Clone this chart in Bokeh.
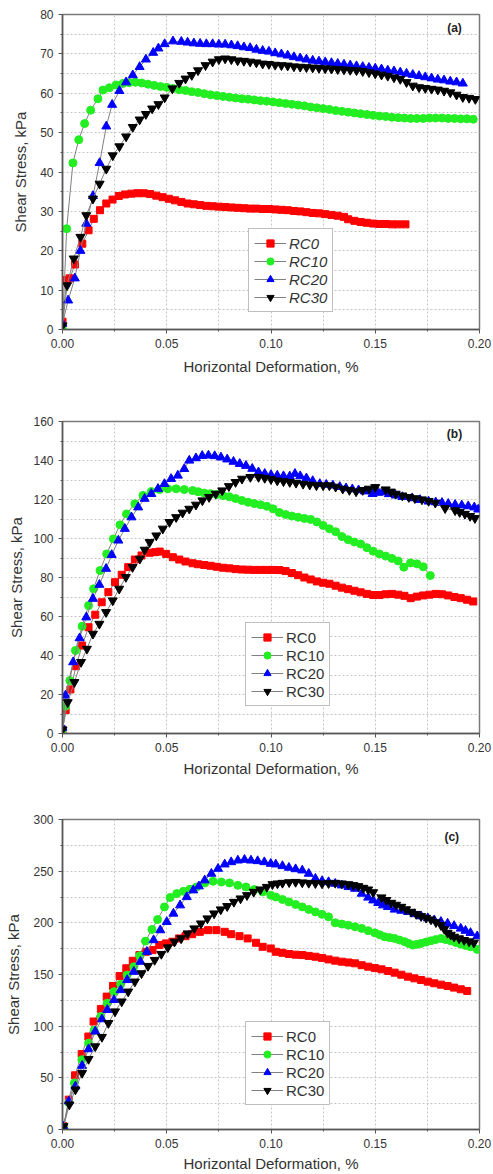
from bokeh.plotting import figure
from bokeh.models import (Range1d, FixedTicker, PrintfTickFormatter, Legend,
                          LegendItem, Label)
from bokeh.layouts import column
from bokeh.embed import file_html
from bokeh.resources import INLINE

# ---------------- data: panel (a) ----------------
A_RC0_x = [0.000, 0.002, 0.0035, 0.006, 0.0095, 0.0125, 0.015, 0.018, 0.021, 0.024,
           0.027, 0.030, 0.033, 0.036, 0.039, 0.042, 0.045, 0.048, 0.051, 0.054,
           0.057, 0.060, 0.063, 0.066, 0.069, 0.072, 0.075, 0.078, 0.081, 0.084,
           0.087, 0.090, 0.093, 0.096, 0.099, 0.102, 0.105, 0.108, 0.111, 0.114,
           0.117, 0.120, 0.123, 0.126, 0.129, 0.132, 0.135, 0.137, 0.140, 0.143,
           0.146, 0.149, 0.152, 0.155, 0.158, 0.161, 0.1645]
A_RC0_y = [2.0, 12.6, 13.0, 16.5, 21.8, 25.2, 28.1, 30.3, 32.0, 33.0,
           33.9, 34.3, 34.5, 34.6, 34.6, 34.4, 34.0, 33.6, 33.2, 32.8,
           32.4, 32.0, 31.8, 31.6, 31.4, 31.3, 31.2, 31.1, 31.0, 30.9,
           30.8, 30.7, 30.7, 30.6, 30.6, 30.5, 30.4, 30.3, 30.1, 30.0,
           29.8, 29.6, 29.5, 29.3, 29.1, 28.9, 28.6, 28.0, 27.6, 27.3,
           27.1, 26.9, 26.8, 26.8, 26.7, 26.7, 26.7]

A_RC10_x = [0.000, 0.002, 0.005, 0.0078, 0.0106, 0.0135, 0.017, 0.0194, 0.0225, 0.0257,
            0.029, 0.032, 0.035, 0.038, 0.041, 0.044, 0.047, 0.050, 0.053, 0.056,
            0.059, 0.062, 0.065, 0.068, 0.071, 0.074, 0.077, 0.080, 0.083, 0.086,
            0.089, 0.092, 0.095, 0.098, 0.101, 0.104, 0.107, 0.110, 0.113, 0.116,
            0.119, 0.122, 0.125, 0.128, 0.131, 0.134, 0.137, 0.140, 0.143, 0.146,
            0.149, 0.152, 0.155, 0.158, 0.161, 0.164, 0.167, 0.170, 0.173, 0.176,
            0.179, 0.182, 0.185, 0.188, 0.191, 0.194, 0.197]
A_RC10_y = [0.0, 25.6, 42.3, 48.2, 52.3, 55.7, 58.6, 60.8, 61.4, 62.1,
            62.5, 62.7, 62.8, 62.6, 62.3, 62.0, 61.7, 61.5, 61.2, 60.9,
            60.7, 60.4, 60.2, 59.9, 59.6, 59.4, 59.2, 59.0, 58.8, 58.6,
            58.5, 58.3, 58.1, 58.0, 57.8, 57.6, 57.4, 57.2, 57.0, 56.8,
            56.5, 56.3, 56.1, 55.9, 55.6, 55.4, 55.2, 55.0, 54.8, 54.6,
            54.4, 54.2, 54.1, 53.9, 53.8, 53.7, 53.6, 53.6, 53.6, 53.7,
            53.7, 53.7, 53.6, 53.6, 53.5, 53.5, 53.4]

A_RC20_x = [0.000, 0.0027, 0.0059, 0.0086, 0.0114, 0.0146, 0.0178, 0.021, 0.0238, 0.0273,
            0.0305, 0.0337, 0.037, 0.040, 0.0435, 0.046, 0.049, 0.053, 0.057, 0.060,
            0.063, 0.066, 0.069, 0.072, 0.075, 0.078, 0.081, 0.084, 0.087, 0.090,
            0.093, 0.096, 0.099, 0.102, 0.105, 0.108, 0.111, 0.114, 0.117, 0.120,
            0.123, 0.126, 0.129, 0.132, 0.135, 0.138, 0.141, 0.144, 0.147, 0.150,
            0.153, 0.156, 0.159, 0.162, 0.165, 0.168, 0.171, 0.174, 0.177, 0.180,
            0.183, 0.186, 0.189, 0.192]
A_RC20_y = [1.5, 7.4, 13.0, 20.0, 26.9, 33.9, 42.3, 51.6, 57.1, 60.6,
            62.8, 64.6, 66.7, 68.6, 70.3, 71.4, 72.5, 73.2, 73.1, 72.9,
            72.7, 72.6, 72.5, 72.5, 72.4, 72.4, 72.2, 72.0, 71.7, 71.5,
            71.1, 70.8, 70.6, 70.2, 69.9, 69.6, 69.2, 68.9, 68.6, 68.3,
            68.1, 67.9, 67.7, 67.5, 67.3, 67.1, 66.9, 66.7, 66.5, 66.3,
            66.1, 65.8, 65.6, 65.3, 65.0, 64.7, 64.4, 64.1, 63.8, 63.5,
            63.3, 63.0, 62.8, 62.5]

A_RC30_x = [0.000, 0.0022, 0.0054, 0.0086, 0.0114, 0.0146, 0.0178, 0.021, 0.0241, 0.0273,
            0.0305, 0.0337, 0.037, 0.040, 0.043, 0.046, 0.049, 0.0527, 0.056, 0.059,
            0.062, 0.065, 0.0686, 0.072, 0.075, 0.078, 0.081, 0.084, 0.087, 0.090,
            0.093, 0.096, 0.099, 0.102, 0.105, 0.108, 0.111, 0.114, 0.117, 0.120,
            0.123, 0.126, 0.129, 0.132, 0.135, 0.138, 0.141, 0.144, 0.147, 0.150,
            0.153, 0.156, 0.159, 0.162, 0.165, 0.168, 0.171, 0.174, 0.177, 0.180,
            0.183, 0.186, 0.189, 0.192, 0.195, 0.198]
A_RC30_y = [1.0, 11.2, 18.0, 23.5, 29.0, 33.2, 37.0, 40.8, 44.2, 46.5,
            49.0, 51.4, 53.3, 54.7, 56.1, 57.2, 58.9, 61.2, 62.6, 63.7,
            64.6, 65.8, 67.1, 68.0, 68.6, 68.8, 68.6, 68.3, 68.2, 68.0,
            67.8, 67.5, 67.4, 67.2, 67.1, 67.0, 66.8, 66.7, 66.6, 66.5,
            66.4, 66.3, 66.2, 66.1, 66.0, 65.9, 65.8, 65.6, 65.3, 65.0,
            64.7, 64.4, 64.0, 63.6, 62.8, 61.9, 61.5, 61.3, 61.1, 60.9,
            60.6, 60.2, 59.6, 59.0, 58.8, 58.5]

# ---------------- data: panel (b) ----------------
B_RC0_x = [0.000, 0.0015, 0.0038, 0.0065, 0.0094, 0.0125, 0.0157, 0.0188, 0.022, 0.0252,
           0.0284, 0.0315, 0.0347, 0.0379, 0.0418, 0.0445, 0.0466, 0.0497, 0.0529, 0.056,
           0.059, 0.0624, 0.065, 0.068, 0.071, 0.074, 0.077, 0.080, 0.083, 0.086,
           0.089, 0.092, 0.095, 0.098, 0.101, 0.104, 0.107, 0.110, 0.113, 0.116,
           0.119, 0.122, 0.125, 0.128, 0.131, 0.134, 0.137, 0.140, 0.143, 0.146,
           0.149, 0.152, 0.155, 0.158, 0.161, 0.164, 0.167, 0.170, 0.173, 0.176,
           0.179, 0.182, 0.185, 0.188, 0.191, 0.194, 0.197]
B_RC0_y = [2.0, 12.0, 22.6, 34.5, 45.1, 54.5, 60.9, 67.3, 72.5, 77.6,
           81.4, 85.3, 89.2, 91.3, 92.7, 93.0, 93.3, 92.1, 90.4, 89.2,
           88.2, 87.3, 86.8, 86.4, 86.0, 85.5, 85.0, 84.7, 84.3, 84.1,
           84.0, 83.9, 83.9, 83.9, 83.9, 83.8, 83.3, 82.3, 81.2, 80.0,
           79.0, 78.0, 77.3, 76.8, 75.8, 74.8, 74.0, 73.2, 72.4, 71.6,
           71.0, 71.0, 71.4, 71.6, 71.2, 70.6, 69.4, 70.2, 70.8, 71.2,
           71.6, 71.4, 70.8, 70.0, 69.4, 68.6, 67.7]

B_RC10_x = [0.000, 0.0015, 0.0035, 0.0062, 0.0094, 0.0125, 0.0149, 0.018, 0.0212, 0.0244,
            0.0276, 0.0307, 0.0347, 0.0386, 0.0426, 0.0466, 0.0505, 0.0545, 0.0584, 0.0624,
            0.065, 0.068, 0.071, 0.074, 0.077, 0.080, 0.083, 0.086, 0.089, 0.092,
            0.095, 0.098, 0.101, 0.104, 0.107, 0.110, 0.113, 0.116, 0.119, 0.122,
            0.125, 0.128, 0.131, 0.134, 0.137, 0.140, 0.143, 0.146, 0.149, 0.152,
            0.155, 0.158, 0.161, 0.1637, 0.1669, 0.170, 0.173, 0.1764]
B_RC10_y = [2.0, 14.0, 27.2, 42.6, 55.0, 65.6, 74.2, 83.6, 92.1, 99.8,
            107.0, 112.6, 117.8, 122.1, 124.1, 125.1, 125.5, 125.5, 125.1, 124.6,
            124.0, 123.3, 123.0, 122.6, 122.0, 121.4, 120.5, 119.5, 118.6, 117.9,
            117.3, 116.5, 115.2, 113.3, 112.3, 111.5, 110.9, 110.3, 109.8, 108.5,
            106.7, 105.0, 103.5, 101.0, 99.4, 98.2, 97.2, 95.3, 93.5, 92.1,
            91.0, 89.8, 88.5, 85.3, 87.5, 87.0, 85.5, 81.0]

B_RC20_x = [0.000, 0.0014, 0.0051, 0.0082, 0.0114, 0.0146, 0.0177, 0.0209, 0.0236, 0.0268,
            0.0299, 0.0331, 0.0363, 0.0394, 0.0426, 0.0458, 0.0489, 0.0521, 0.0553, 0.0584,
            0.0608, 0.064, 0.067, 0.070, 0.073, 0.076, 0.079, 0.082, 0.085, 0.088,
            0.091, 0.094, 0.097, 0.100, 0.103, 0.106, 0.109, 0.1115, 0.114, 0.117,
            0.120, 0.1234, 0.1265, 0.1297, 0.133, 0.136, 0.139, 0.142, 0.145, 0.1487,
            0.1515, 0.1534, 0.1565, 0.1598, 0.163, 0.1677, 0.1715, 0.1756, 0.179, 0.182,
            0.185, 0.1883, 0.1915, 0.1946, 0.1975, 0.1994]
B_RC20_y = [3.0, 19.5, 36.6, 48.9, 59.6, 69.1, 76.3, 84.5, 91.6, 99.0,
            105.0, 110.9, 116.0, 120.4, 122.9, 125.5, 128.0, 130.6, 132.3, 135.7,
            140.0, 141.2, 142.4, 142.6, 142.3, 141.6, 140.6, 139.4, 138.3, 137.3,
            135.8, 134.0, 133.2, 132.6, 132.3, 132.0, 131.9, 133.2, 132.0, 130.9,
            129.5, 128.0, 127.6, 127.2, 126.5, 125.8, 125.3, 124.8, 124.2, 122.9,
            123.5, 123.8, 122.8, 122.1, 121.3, 120.7, 119.8, 119.0, 118.6, 118.3,
            117.8, 117.3, 117.0, 116.6, 116.0, 114.9]

B_RC30_x = [0.000, 0.0025, 0.0057, 0.0089, 0.0117, 0.0146, 0.0177, 0.0209, 0.0241, 0.0272,
            0.0304, 0.0336, 0.0371, 0.0394, 0.0418, 0.045, 0.0481, 0.0513, 0.0545, 0.0576,
            0.0608, 0.064, 0.0671, 0.0703, 0.0735, 0.0766, 0.0798, 0.083, 0.0861, 0.0901,
            0.094, 0.097, 0.100, 0.103, 0.106, 0.109, 0.112, 0.1154, 0.1186, 0.1218,
            0.125, 0.128, 0.131, 0.1344, 0.1376, 0.1408, 0.144, 0.147, 0.150, 0.155,
            0.1575, 0.1598, 0.163, 0.1661, 0.169, 0.1724, 0.1756, 0.1788, 0.1835, 0.1883,
            0.1905, 0.193, 0.1955, 0.1978]
B_RC30_y = [2.0, 16.0, 26.3, 36.6, 43.4, 51.1, 56.2, 62.2, 68.2, 74.2,
            80.2, 85.3, 89.6, 94.2, 98.1, 101.5, 105.0, 108.4, 110.9, 113.2,
            115.2, 117.3, 119.5, 121.2, 122.9, 124.6, 126.8, 128.9, 130.6, 131.5,
            131.5, 131.0, 130.4, 129.7, 129.3, 128.9, 128.5, 128.0, 127.6, 127.2,
            127.2, 127.2, 126.5, 125.5, 124.8, 124.1, 124.8, 125.5, 126.3, 125.1,
            124.0, 122.9, 122.0, 121.2, 120.6, 120.0, 119.2, 118.3, 115.5, 114.4,
            113.5, 112.6, 111.5, 110.4]

# ---------------- data: panel (c) ----------------
C_RC0_x = [0.0005, 0.003, 0.006, 0.0092, 0.0124, 0.0149, 0.0184, 0.0212, 0.0242, 0.0274,
           0.0306, 0.0337, 0.0369, 0.040, 0.0432, 0.0464, 0.0496, 0.0527, 0.0559, 0.059,
           0.0622, 0.0659, 0.0698, 0.0738, 0.0778, 0.0809, 0.0849, 0.0888, 0.0928, 0.096,
           0.0999, 0.1023, 0.1055, 0.1086, 0.1118, 0.115, 0.1181, 0.1213, 0.1245, 0.1276,
           0.1308, 0.134, 0.1372, 0.1403, 0.1435, 0.1466, 0.1498, 0.153, 0.1562, 0.1593,
           0.1625, 0.1657, 0.1688, 0.172, 0.1752, 0.1783, 0.1815, 0.1847, 0.1878, 0.191, 0.1941]
C_RC0_y = [3.2, 28.9, 52.4, 73.0, 90.0, 104.5, 116.7, 128.6, 138.9, 148.5,
           156.0, 163.3, 168.8, 172.0, 173.6, 178.5, 180.1, 181.7, 184.9, 187.1,
           189.0, 191.3, 192.9, 192.9, 191.3, 189.0, 187.1, 184.9, 180.7, 176.8,
           175.2, 172.0, 171.0, 169.8, 169.2, 168.8, 168.0, 167.2, 166.0, 164.6,
           163.4, 162.4, 161.6, 160.8, 159.0, 157.6, 156.2, 155.0, 153.4, 151.8,
           149.8, 147.9, 146.3, 144.7, 143.1, 141.5, 140.2, 138.9, 137.3, 135.7, 134.1]

C_RC10_x = [0.0005, 0.003, 0.0057, 0.0093, 0.0125, 0.0152, 0.0184, 0.0215, 0.0247, 0.0279,
            0.031, 0.0342, 0.037, 0.0398, 0.0429, 0.0456, 0.0489, 0.0516, 0.0548, 0.058,
            0.0611, 0.0643, 0.0682, 0.0722, 0.0762, 0.0801, 0.0841, 0.088, 0.092, 0.096,
            0.0999, 0.1023, 0.1055, 0.1086, 0.1118, 0.115, 0.1181, 0.1213, 0.1245, 0.1276,
            0.1308, 0.134, 0.1371, 0.1403, 0.1435, 0.1466, 0.1498, 0.1522, 0.1545, 0.1569,
            0.1593, 0.1617, 0.1641, 0.166, 0.168, 0.170, 0.172, 0.1744, 0.1767, 0.179,
            0.1815, 0.1838, 0.1862, 0.1886, 0.191, 0.1933, 0.1957, 0.1989]
C_RC10_y = [2.0, 26.0, 45.0, 67.5, 83.6, 96.0, 109.4, 122.3, 133.4, 140.5,
            149.5, 157.5, 168.1, 182.3, 193.6, 203.2, 215.4, 224.5, 228.3, 230.5,
            232.5, 234.7, 238.6, 240.2, 239.5, 238.6, 236.3, 234.7, 232.2, 229.9,
            226.7, 225.0, 222.6, 220.2, 217.8, 215.4, 213.0, 210.6, 208.2, 205.8,
            200.0, 198.8, 197.7, 196.2, 194.6, 192.4, 190.3, 188.4, 186.5, 185.7,
            184.9, 183.3, 181.7, 180.1, 178.5, 179.3, 180.1, 181.4, 182.6, 183.8,
            184.9, 183.8, 182.6, 181.0, 179.4, 178.1, 176.8, 174.3]

C_RC20_x = [0.0005, 0.003, 0.0062, 0.0094, 0.0125, 0.0157, 0.0189, 0.0215, 0.0247, 0.0279,
            0.031, 0.0342, 0.0374, 0.0405, 0.0437, 0.0469, 0.050, 0.0532, 0.0564, 0.0596,
            0.0627, 0.0654, 0.0682, 0.0714, 0.0746, 0.0778, 0.0809, 0.0841, 0.0873, 0.0904,
            0.0936, 0.0968, 0.0999, 0.1023, 0.1055, 0.1086, 0.1118, 0.115, 0.1181, 0.1213,
            0.1245, 0.1276, 0.1308, 0.134, 0.1372, 0.1403, 0.1435, 0.1466, 0.149, 0.1514,
            0.1537, 0.1561, 0.1593, 0.1625, 0.1657, 0.1688, 0.172, 0.1752, 0.1783, 0.1815,
            0.1847, 0.1878, 0.191, 0.1933, 0.1957, 0.1989]
C_RC20_y = [3.0, 27.3, 41.8, 61.7, 77.8, 94.9, 106.8, 115.8, 125.4, 135.0,
            144.7, 152.7, 162.4, 172.0, 183.3, 192.9, 200.9, 209.0, 217.0, 225.0,
            231.5, 235.4, 241.2, 247.6, 252.4, 256.6, 258.8, 260.4, 261.1, 260.4,
            259.8, 258.8, 257.2, 256.6, 255.0, 253.4, 252.0, 250.8, 247.6, 242.8,
            240.5, 239.5, 237.9, 236.3, 234.7, 233.1, 228.3, 224.5, 221.8, 219.3,
            217.0, 215.4, 212.9, 211.8, 210.6, 208.5, 206.4, 204.5, 202.6, 201.0,
            199.3, 197.0, 194.5, 192.4, 190.3, 187.1]

C_RC30_x = [0.0005, 0.0033, 0.0062, 0.0094, 0.0125, 0.0157, 0.0189, 0.022, 0.0252, 0.0284,
            0.0315, 0.0347, 0.0379, 0.041, 0.0442, 0.0474, 0.0505, 0.0537, 0.0569, 0.060,
            0.0632, 0.0664, 0.0695, 0.0727, 0.0759, 0.079, 0.0822, 0.0854, 0.0885, 0.0917,
            0.0949, 0.098, 0.1007, 0.1031, 0.1055, 0.1087, 0.1118, 0.115, 0.1181, 0.1213,
            0.1245, 0.1276, 0.1308, 0.134, 0.1371, 0.1395, 0.1419, 0.1443, 0.1466, 0.149,
            0.153, 0.1553, 0.1577, 0.160, 0.1625, 0.1648, 0.1672, 0.1696, 0.172, 0.1744,
            0.1767, 0.1791, 0.1815, 0.1831, 0.1847, 0.1862, 0.1878, 0.1902, 0.1926, 0.195, 0.1973]
C_RC30_y = [3.0, 24.1, 38.6, 54.7, 68.2, 80.4, 89.5, 102.9, 114.2, 123.8,
            133.4, 143.1, 151.1, 158.2, 164.0, 169.8, 176.2, 181.7, 184.9, 189.7,
            194.5, 199.3, 204.2, 209.0, 212.9, 216.1, 220.2, 223.5, 226.7, 229.9,
            232.2, 234.7, 237.3, 238.0, 238.6, 239.2, 239.5, 239.0, 238.6, 238.3,
            238.0, 238.3, 238.6, 238.0, 237.3, 236.4, 235.4, 233.8, 232.2, 229.5,
            224.5, 222.0, 219.3, 217.4, 215.4, 213.0, 210.6, 208.5, 206.4, 204.8,
            203.2, 200.5, 197.7, 194.0, 190.3, 188.4, 186.5, 184.9, 183.3, 182.0, 180.7]

SERIES_NAMES = ["RC0", "RC10", "RC20", "RC30"]
X_TICKS = [0.0, 0.05, 0.10, 0.15, 0.20]
X_MINOR = [0.025, 0.075, 0.125, 0.175]
X_LABEL = "Horizontal Deformation, %"
Y_LABEL = "Shear Stress, kPa"

STYLE = {
    "RC0": dict(marker="square", color="#FF0000", size=7),
    "RC10": dict(marker="circle", color="#22EE22", size=8),
    "RC20": dict(marker="triangle", color="#0000FF", size=9),
    "RC30": dict(marker="inverted_triangle", color="#000000", size=9),
}

FONT = "Liberation Sans"


def make_panel(data, ymax, ymaj, ymin, tag, tag_xy, leg_loc, italic,
               height, borders, lab_standoff):
    left, right, top, bottom = borders
    p = figure(width=493, height=height, x_range=Range1d(0, 0.2),
               y_range=Range1d(0, ymax), output_backend="svg",
               toolbar_location=None, min_border_left=left,
               min_border_right=right, min_border_top=top,
               min_border_bottom=bottom, background_fill_color="white",
               border_fill_color="white")
    p.outline_line_color = "#7a7a7a"
    p.outline_line_width = 1.5
    p.outline_line_alpha = 1.0

    p.xaxis.ticker = FixedTicker(ticks=X_TICKS, minor_ticks=X_MINOR)
    p.yaxis.ticker = FixedTicker(ticks=ymaj, minor_ticks=ymin)
    p.xaxis.formatter = PrintfTickFormatter(format="%.2f")
    p.yaxis.formatter = PrintfTickFormatter(format="%d")
    p.xaxis.axis_label = X_LABEL
    p.yaxis.axis_label = Y_LABEL
    for ax in (p.xaxis[0], p.yaxis[0]):
        ax.axis_line_color = "#555555"
        ax.axis_line_width = 1.5
        ax.major_tick_line_color = "#555555"
        ax.minor_tick_line_color = "#555555"
        ax.major_tick_out = 4
        ax.major_tick_in = 0
        ax.minor_tick_out = 2
        ax.minor_tick_in = 0
        ax.major_label_text_font = FONT
        ax.major_label_text_font_size = "12px"
        ax.major_label_text_color = "#333333"
        ax.axis_label_text_font = FONT
        ax.axis_label_text_font_size = "15px"
        ax.axis_label_text_font_style = "normal"
        ax.axis_label_text_color = "#333333"
        ax.major_label_standoff = 5
    p.xaxis[0].axis_label_standoff = lab_standoff[0]
    p.yaxis[0].axis_label_standoff = lab_standoff[1]

    for g in (p.xgrid[0], p.ygrid[0]):
        g.grid_line_color = "#c4c4c4"
        g.grid_line_dash = "2 2"
        g.minor_grid_line_color = "#c4c4c4"
        g.minor_grid_line_dash = "2 2"

    items = []
    for name in SERIES_NAMES:
        xs, ys = data[name]
        st = STYLE[name]
        ln = p.line(xs, ys, line_color="#808080", line_width=1)
        sc = p.scatter(xs, ys, marker=st["marker"], size=st["size"],
                       fill_color=st["color"], line_color=st["color"])
        items.append(LegendItem(label=name, renderers=[ln, sc]))

    leg = Legend(items=items, location=leg_loc)
    leg.border_line_color = "#808080"
    leg.border_line_width = 1.5
    leg.background_fill_color = "white"
    leg.background_fill_alpha = 1.0
    leg.label_text_font = FONT
    leg.label_text_font_size = "15px"
    leg.label_text_color = "#333333"
    leg.label_text_font_style = "italic" if italic else "normal"
    leg.padding = 5
    leg.spacing = 0
    leg.margin = 0
    leg.label_height = 18
    leg.glyph_height = 18
    leg.glyph_width = 32
    leg.label_standoff = 3
    p.add_layout(leg)

    p.add_layout(Label(x=tag_xy[0], y=tag_xy[1], text=tag, text_font=FONT,
                       text_font_size="12px", text_font_style="bold",
                       text_color="#222222", text_align="center",
                       text_baseline="middle"))
    return p


panel_a = {"RC0": (A_RC0_x, A_RC0_y), "RC10": (A_RC10_x, A_RC10_y),
           "RC20": (A_RC20_x, A_RC20_y), "RC30": (A_RC30_x, A_RC30_y)}
panel_b = {"RC0": (B_RC0_x, B_RC0_y), "RC10": (B_RC10_x, B_RC10_y),
           "RC20": (B_RC20_x, B_RC20_y), "RC30": (B_RC30_x, B_RC30_y)}
panel_c = {"RC0": (C_RC0_x, C_RC0_y), "RC10": (C_RC10_x, C_RC10_y),
           "RC20": (C_RC20_x, C_RC20_y), "RC30": (C_RC30_x, C_RC30_y)}

fa = make_panel(panel_a, 80, list(range(0, 81, 10)), list(range(5, 80, 10)),
                "(a)", (0.188, 76.6), (186, 17), True, 388, (57, 13, 14, 59), (7, 8))
fb = make_panel(panel_b, 160, list(range(0, 161, 20)), list(range(10, 160, 20)),
                "(b)", (0.188, 153.8), (183, 27), False, 392, (62, 10, 33, 47), (5, 5))
fc = make_panel(panel_c, 300, list(range(0, 301, 50)), list(range(25, 300, 50)),
                "(c)", (0.1867, 282.6), (183, 24), False, 394, (58, 14, 39, 44), (4, 8))

layout = column(fa, fb, fc, spacing=0)
open("out.html", "w").write(file_html(layout, INLINE))
